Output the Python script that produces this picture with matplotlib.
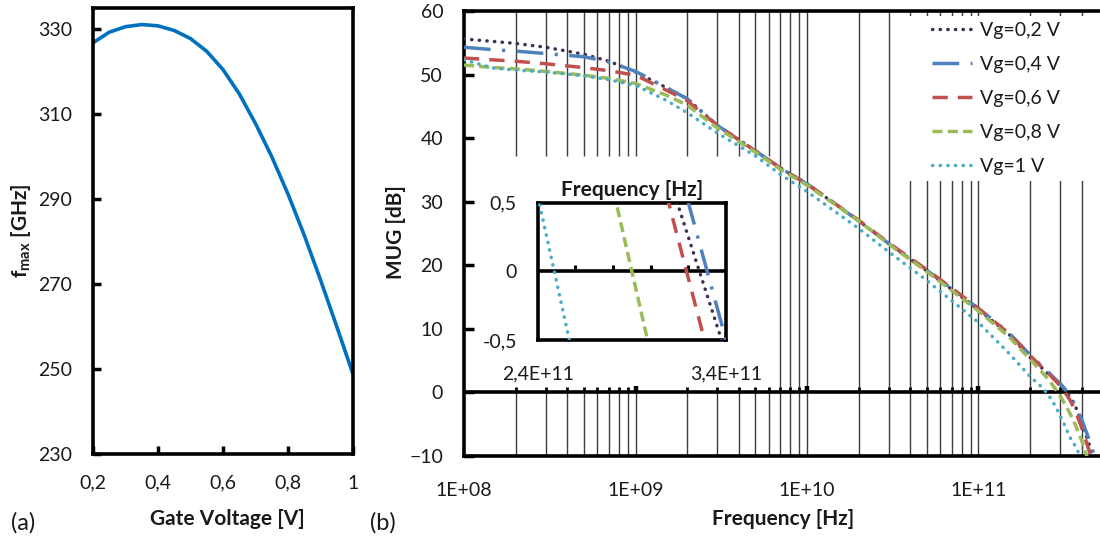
import numpy as np
import matplotlib
matplotlib.use("Agg")
import matplotlib.pyplot as plt
from matplotlib.lines import Line2D
from matplotlib.patches import Rectangle
from matplotlib.ticker import FixedLocator, NullLocator, FuncFormatter

plt.rcParams["font.family"] = ["Lato", "DejaVu Sans"]
plt.rcParams["mathtext.fontset"] = "custom"
plt.rcParams["mathtext.rm"] = "Lato"
plt.rcParams["mathtext.bf"] = "Lato:bold"

# ---------------- (a) fmax versus gate voltage ----------------
gate_voltage = [0.20, 0.25, 0.30, 0.35, 0.40, 0.45, 0.50, 0.55, 0.60,
                0.65, 0.70, 0.75, 0.80, 0.85, 0.90, 0.95, 1.00]
fmax_ghz = [326.8, 329.3, 330.6, 331.1, 330.8, 329.7, 327.8, 324.8, 320.5,
            314.8, 307.8, 300.0, 291.2, 281.5, 271.0, 260.0, 248.8]

# ---------------- (b) MUG versus frequency ----------------
freq_hz = [1e8, 1.5e8, 2e8, 3e8, 5e8, 7e8, 1e9, 1.5e9, 2e9, 3e9, 5e9, 7e9,
           1e10, 2e10, 3e10, 5e10, 7e10, 1e11, 1.5e11, 2e11, 2.4e11, 2.6e11,
           2.8e11, 3.0e11, 3.2e11, 3.4e11, 3.7e11, 4e11, 4.5e11, 5e11]
mug_vg02 = [55.6, 55.2, 54.9, 54.3, 53.2, 52.1, 50.4, 48.0, 46.2, 42.0, 38.0, 35.3,
            32.8, 27.0, 23.4, 19.1, 16.2, 13.0, 9.2, 5.5, 3.6, 2.7,
            1.9, 1.1, 0.25, -0.6, -2.4, -4.8, -8.8, -13.0]
mug_vg04 = [54.3, 53.9, 53.7, 53.3, 52.8, 52.0, 50.5, 48.0, 46.2, 42.0, 38.0, 35.3,
            32.8, 27.0, 23.4, 19.2, 16.3, 13.2, 9.4, 5.9, 3.9, 3.0,
            2.1, 1.4, 0.5, -0.5, -2.2, -4.3, -8.0, -12.0]
mug_vg06 = [52.6, 52.3, 52.1, 51.7, 51.1, 50.6, 49.9, 47.6, 45.9, 42.0, 38.0, 35.3,
            32.8, 27.1, 23.5, 19.3, 16.4, 13.2, 9.3, 5.8, 3.7, 2.8,
            1.9, 1.0, -0.05, -1.1, -3.1, -5.6, -9.8, -14.0]
mug_vg08 = [51.5, 51.1, 50.9, 50.5, 49.9, 49.4, 48.6, 46.8, 45.2, 41.6, 37.8, 35.1,
            32.6, 27.0, 23.3, 19.0, 16.0, 12.8, 8.8, 5.2, 2.9, 1.8,
            0.6, -0.6, -1.9, -3.2, -5.3, -7.6, -11.8, -16.0]
mug_vg10 = [52.3, 51.0, 50.7, 50.4, 49.8, 49.2, 48.3, 46.0, 44.0, 40.8, 37.2, 34.3,
            31.6, 25.8, 22.1, 17.6, 14.4, 11.0, 6.2, 2.5, 0.55, -0.7,
            -2.1, -3.7, -5.3, -7.0, -8.6, -10.6, -15.0, -19.0]
series_labels = ["Vg=0,2 V", "Vg=0,4 V", "Vg=0,6 V", "Vg=0,8 V", "Vg=1 V"]
series_values = [mug_vg02, mug_vg04, mug_vg06, mug_vg08, mug_vg10]

series_styles = [
    dict(color="#403152", linestyle=(0, (0.1, 2.1)), dash_capstyle="round"),
    dict(color="#4F81BD", linestyle=(0, (7.7, 3.3, 0.9, 3.3)), dash_capstyle="butt"),
    dict(color="#C0504D", linestyle=(0, (4.4, 2.9)), dash_capstyle="butt"),
    dict(color="#9BBB59", linestyle=(0, (2.9, 1.5)), dash_capstyle="butt"),
    dict(color="#4BACC6", linestyle=(0, (0.1, 2.1)), dash_capstyle="round"),
]
LW = 2.5
TXT = "#1a1a1a"
TICK_FS = 14
LABEL_FS = 15


def comma(v, _pos=None):
    return f"{v:g}".replace(".", ",")


W, H = 1100, 547
fig = plt.figure(figsize=(W / 100, H / 100), dpi=100)


def fig_rect(x0, y0, x1, y1):
    """Axes rectangle from pixel corners (top-left origin)."""
    return [x0 / W, 1 - y1 / H, (x1 - x0) / W, (y1 - y0) / H]


# ---------- panel (a) ----------
ax1 = fig.add_axes(fig_rect(93, 8, 353, 454))
ax1.plot(gate_voltage, fmax_ghz, color="#0070C0", lw=2.6, solid_capstyle="butt")
ax1.set_xlim(0.2, 1.0)
ax1.set_ylim(230, 335)
ax1.xaxis.set_major_locator(FixedLocator([0.2, 0.4, 0.6, 0.8, 1.0]))
ax1.yaxis.set_major_locator(FixedLocator([230, 250, 270, 290, 310, 330]))
ax1.xaxis.set_major_formatter(FuncFormatter(comma))
ax1.yaxis.set_major_formatter(FuncFormatter(comma))
ax1.tick_params(axis="x", direction="in", length=6, width=2.5, labelsize=TICK_FS,
                pad=15, labelcolor=TXT)
ax1.tick_params(axis="y", direction="in", length=6, width=2.5, labelsize=TICK_FS,
                pad=15, labelcolor=TXT)
for s in ax1.spines.values():
    s.set_linewidth(2.6)
ax1.set_xlabel("Gate Voltage [V]", fontsize=LABEL_FS, fontweight="bold", color=TXT)
ax1.xaxis.set_label_coords(227 / W, 1 - 509 / H, transform=fig.transFigure)
ax1.set_ylabel(r"$\mathbf{f_{max}}$ [GHz]", fontsize=LABEL_FS, fontweight="bold",
               color=TXT)
ax1.yaxis.set_label_coords(33 / W, 1 - 231 / H, transform=fig.transFigure)
fig.text(11 / W, 1 - 523 / H, "(a)", fontsize=17, va="center", ha="left", color=TXT)

# ---------- panel (b) ----------
x_left, x_right = 1e8, 6e11
decade_px = 171.5
ax2_right = 464 + decade_px * np.log10(x_right / x_left)
ax2 = fig.add_axes(fig_rect(464, 11, ax2_right, 456))
ax2.set_xscale("log")
ax2.set_xlim(x_left, x_right)
ax2.set_ylim(-10, 60)

# vertical grid: interrupted where the zoom box sits
grid_x = np.array([m * 10.0 ** k for k in range(8, 12) for m in range(1, 10)])
grid_x = grid_x[(grid_x > x_left) & (grid_x <= 4e11)]
short = grid_x[grid_x < 6.5e9]
full = grid_x[grid_x >= 6.5e9]
gkw = dict(color="#3c3c3c", lw=1.0, zorder=1)
ax2.vlines(short, 37.2, 60, **gkw)
ax2.vlines(short, -10, 0, **gkw)
ax2.vlines(full, -10, 60, **gkw)

# horizontal axis line at 0 dB with its tick marks
ax2.axhline(0, color="black", lw=2.6, zorder=1.5)
decades = grid_x[np.isclose(np.log10(grid_x) % 1, 0)]
ax2.vlines(grid_x, 0, 0.85, color="black", lw=2.0, zorder=1.5)
ax2.vlines(decades, 0, 1.0, color="black", lw=3.2, zorder=1.5)

for vals, lab, st in zip(series_values, series_labels, series_styles):
    ax2.plot(freq_hz, vals, lw=LW, label=lab, zorder=3, **st)

ax2.yaxis.set_major_locator(FixedLocator(list(range(-10, 70, 10))))
ax2.xaxis.set_major_locator(FixedLocator([1e8, 1e9, 1e10, 1e11]))
ax2.xaxis.set_minor_locator(NullLocator())
ax2.xaxis.set_major_formatter(
    FuncFormatter(lambda v, p: f"1E+{int(round(np.log10(v))):02d}"))
ax2.tick_params(axis="y", direction="in", length=7, width=2.5, labelsize=TICK_FS,
                pad=15, labelcolor=TXT)
ax2.tick_params(axis="x", which="both", length=0, labelsize=TICK_FS, pad=19,
                labelcolor=TXT)
for name, s in ax2.spines.items():
    s.set_linewidth(2.6)
ax2.spines["right"].set_visible(False)
ax2.set_xlabel("Frequency [Hz]", fontsize=LABEL_FS, fontweight="bold", color=TXT)
ax2.xaxis.set_label_coords(783 / W, 1 - 509 / H, transform=fig.transFigure)
ax2.set_ylabel("MUG [dB]", fontsize=LABEL_FS, fontweight="bold", color=TXT)
ax2.yaxis.set_label_coords(406 / W, 1 - 232 / H, transform=fig.transFigure)
fig.text(370 / W, 1 - 523 / H, "(b)", fontsize=17, va="center", ha="left", color=TXT)

# white backing for the legend
ax2.add_patch(Rectangle((900 / W, 1 - 181 / H), 210 / W, 165 / H,
                        transform=fig.transFigure, facecolor="white",
                        edgecolor="none", zorder=2.5))
handles = [Line2D([], [], lw=LW, **st) for st in series_styles]
leg = ax2.legend(handles, series_labels, loc="upper left",
                 bbox_to_anchor=(932 / W, 1 - 22 / H),
                 bbox_transform=fig.transFigure, frameon=False, fontsize=TICK_FS,
                 handlelength=2.06, handletextpad=0.41, labelspacing=0.87,
                 borderpad=0, borderaxespad=0, labelcolor=TXT)
leg.set_zorder(4)

# ---------- zoom on the 0 dB crossing ----------
ax3 = fig.add_axes(fig_rect(537.7, 202.7, 726, 340))
ax3.set_facecolor("white")
for vals, st in zip(series_values, series_styles):
    ax3.plot(freq_hz, vals, lw=LW, zorder=3, **st)
ax3.set_xlim(2.4e11, 3.4e11)
ax3.set_ylim(-0.5, 0.5)
ax3.axhline(0, color="black", lw=2.6, zorder=2)
inner_ticks = [2.6e11, 2.8e11, 3.0e11, 3.2e11]
ax3.vlines(inner_ticks, 0, 0.045, color="black", lw=2.2, zorder=2)
ax3.xaxis.set_major_locator(FixedLocator([2.4e11, 3.4e11]))
ax3.xaxis.set_major_formatter(
    FuncFormatter(lambda v, p: f"{v / 1e11:.1f}".replace(".", ",") + "E+11"))
ax3.yaxis.set_major_locator(FixedLocator([-0.5, 0, 0.5]))
ax3.yaxis.set_major_formatter(FuncFormatter(comma))
ax3.tick_params(axis="x", length=0, labelsize=TICK_FS, pad=18, labelcolor=TXT)
ax3.tick_params(axis="y", length=0, labelsize=TICK_FS, pad=15, labelcolor=TXT)
for s in ax3.spines.values():
    s.set_linewidth(2.6)
ax3.set_title("Frequency [Hz]", fontsize=LABEL_FS, fontweight="bold", pad=5, color=TXT)

fig.savefig("out.png", dpi=100, facecolor="white")
